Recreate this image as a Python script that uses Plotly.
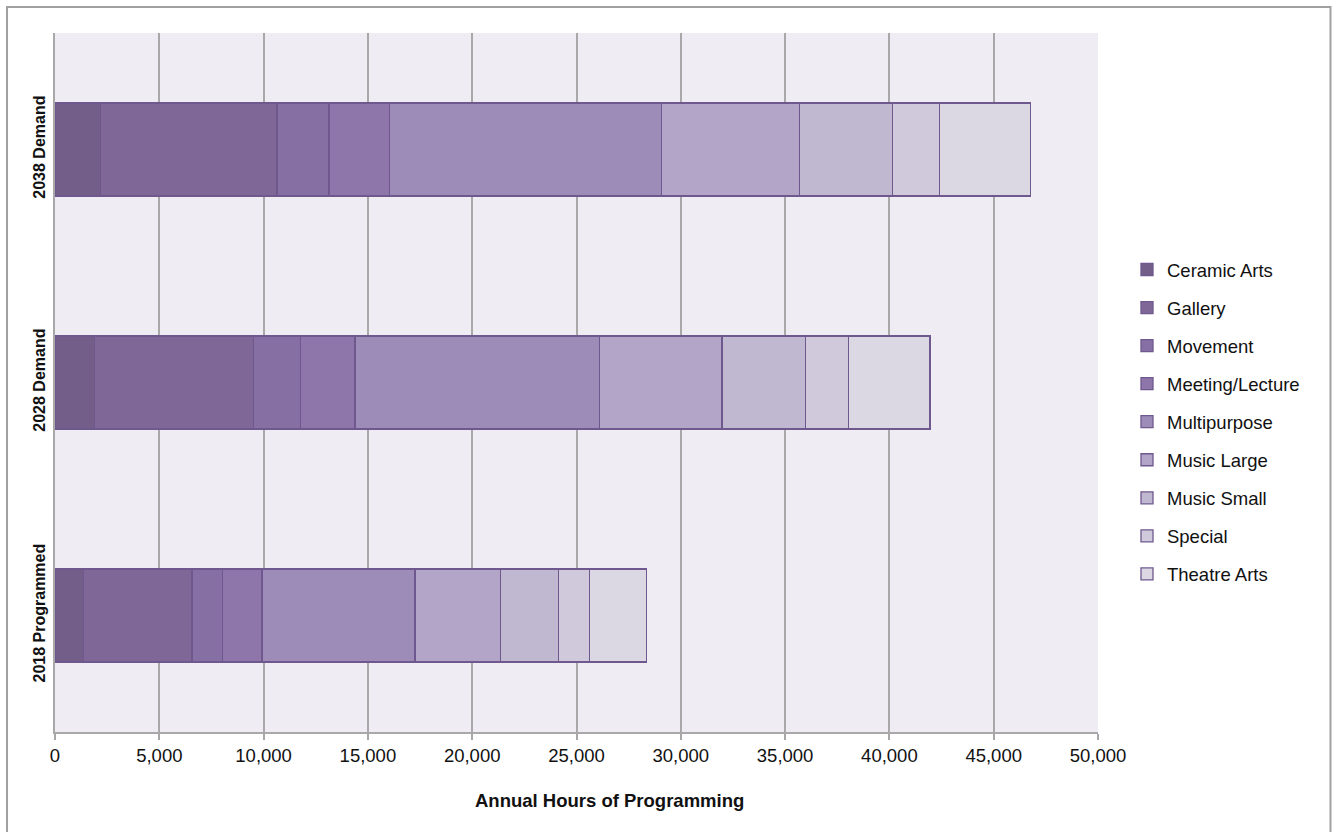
import plotly.graph_objects as go

# Annual programming hours by space type
periods = ["2018 Programmed", "2028 Demand", "2038 Demand"]
space_types = [
    "Ceramic Arts", "Gallery", "Movement", "Meeting/Lecture", "Multipurpose",
    "Music Large", "Music Small", "Special", "Theatre Arts",
]
ceramic_arts = [1360, 1890, 2170]
gallery = [5210, 7630, 8470]
movement = [1470, 2240, 2490]
meeting_lecture = [1880, 2620, 2910]
multipurpose = [7340, 11720, 13050]
music_large = [4080, 5870, 6610]
music_small = [2800, 4020, 4440]
special = [1480, 2050, 2260]
theatre_arts = [2740, 3910, 4360]

series = [ceramic_arts, gallery, movement, meeting_lecture, multipurpose,
          music_large, music_small, special, theatre_arts]
colors = ["#735e8a", "#7f6898", "#8670a3", "#8e76ab", "#9d8cb8",
          "#b3a5c7", "#c0b7d0", "#d0c9db", "#dbd8e4"]
x_ticks = list(range(0, 50001, 5000))

FONT = "Liberation Sans, Arial, Helvetica, sans-serif"

fig = go.Figure()
for name, vals, col in zip(space_types, series, colors):
    fig.add_trace(go.Bar(
        y=periods, x=vals, name=name, orientation="h",
        legendgroup=name,
        marker=dict(color=col, line=dict(color="#6f588e", width=1.3)),
    ))

fig.update_layout(
    width=1332, height=832,
    margin=dict(l=55, r=234, t=33, b=100),
    barmode="stack", bargap=0.6,
    paper_bgcolor="white", plot_bgcolor="#efedf3",
    font=dict(family=FONT, size=18, color="#111"),
    legend=dict(
        x=1.0278, xanchor="left", y=0.4435, yanchor="middle",
        traceorder="grouped", tracegroupgap=11,
        font=dict(size=18.5, color="#111"),
        itemwidth=30,
    ),
    xaxis=dict(
        range=[0, 50000], tickvals=x_ticks, tickformat=",d",
        showgrid=True, gridcolor="#a8a8a8", gridwidth=1.5,
        zeroline=False, showline=True, linecolor="#a8a8a8", linewidth=1.5,
        ticks="outside", ticklen=6, tickcolor="#a8a8a8", tickwidth=1.5,
        tickfont=dict(size=18.5, color="#111"),
    ),
    yaxis=dict(
        categoryorder="array", categoryarray=periods,
        tickangle=-90, showgrid=False, zeroline=False,
        showline=True, linecolor="#a8a8a8", linewidth=1.5,
        tickfont=dict(size=16, color="#111"),
        ticklabelstandoff=2,
    ),
    annotations=[dict(
        text="<b>Annual Hours of Programming</b>",
        xref="paper", yref="paper", x=0.532, y=-0.0973,
        xanchor="center", yanchor="middle", showarrow=False,
        font=dict(size=18.5, color="#111"),
    )],
    shapes=[dict(
        type="rect", xref="paper", yref="paper",
        x0=-0.046, x1=1.2229, y0=-0.16, y1=1.0372,
        line=dict(color="#a0a0a0", width=2), fillcolor="rgba(0,0,0,0)",
        layer="below",
    )],
)
fig.update_yaxes(ticktext=[f"<b>{p}</b>" for p in periods], tickvals=periods)

fig.write_html("out.html")
